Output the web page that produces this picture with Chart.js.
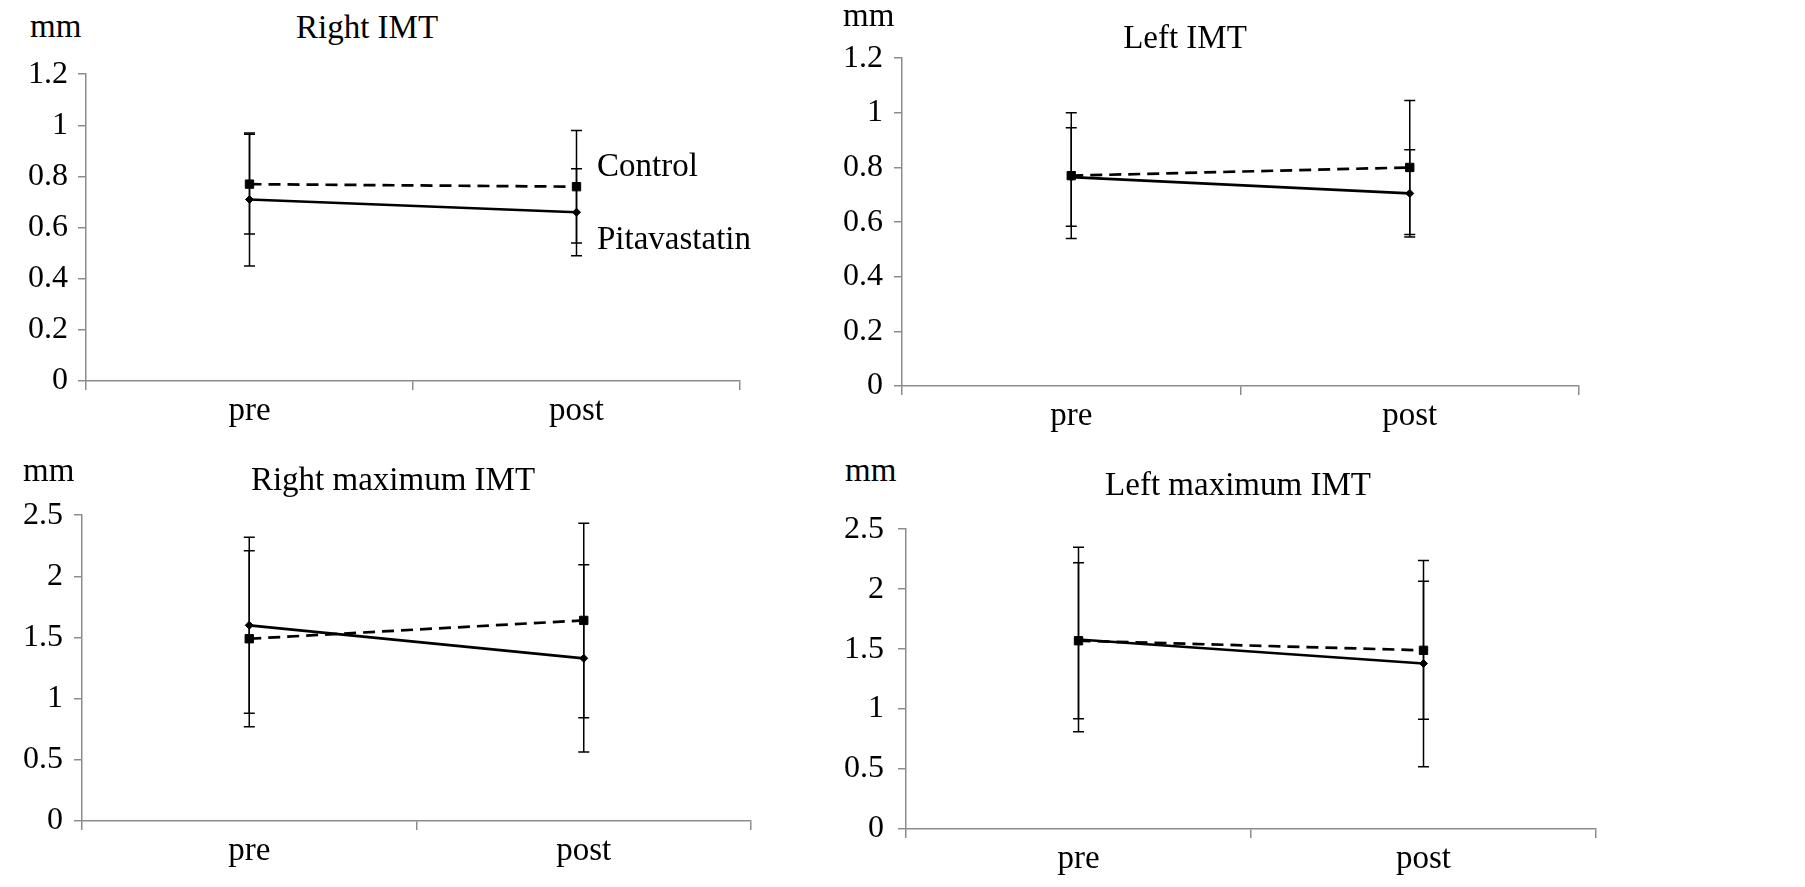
<!DOCTYPE html>
<html>
<head>
<meta charset="utf-8">
<script src="https://cdn.jsdelivr.net/npm/chart.js@4.4.1/dist/chart.umd.min.js"></script>
<style>
  body { margin: 0; background: #fff; }
  #page { position: relative; width: 1805px; height: 887px; overflow: hidden; }
  canvas { position: absolute; }
  .txt {
    position: absolute;
    font-family: "Liberation Serif", "Times New Roman", serif;
    font-size: 33px;
    line-height: 33px;
    color: #000;
    white-space: nowrap;
    z-index: 2;
  }
  .title { text-align: center; width: 400px; }
</style>
</head>
<body>
<div id="page">
  <canvas id="rightImt"></canvas>
  <canvas id="leftImt"></canvas>
  <canvas id="rightMax"></canvas>
  <canvas id="leftMax"></canvas>

  <div class="txt" style="left:30px; top:10px;">mm</div>
  <div class="txt title" style="left:167px; top:11px;">Right IMT</div>
  <div class="txt" style="left:597px; top:149px;">Control</div>
  <div class="txt" style="left:597px; top:222px;">Pitavastatin</div>

  <div class="txt" style="left:843px; top:-1px;">mm</div>
  <div class="txt title" style="left:985px; top:21px;">Left IMT</div>

  <div class="txt" style="left:23px; top:454px;">mm</div>
  <div class="txt title" style="left:193px; top:463px;">Right maximum IMT</div>

  <div class="txt" style="left:845px; top:454px;">mm</div>
  <div class="txt title" style="left:1038px; top:468px;">Left maximum IMT</div>
</div>

<script>
// Categories and tick values
const categories = ['pre', 'post'];
const imtTicks = [0, 0.2, 0.4, 0.6, 0.8, 1, 1.2];
const maxImtTicks = [0, 0.5, 1, 1.5, 2, 2.5];

// Right IMT (mean, SD)
const rightImtPita = [0.71, 0.66];
const rightImtPitaErr = [0.26, 0.17];
const rightImtCtrl = [0.77, 0.76];
const rightImtCtrlErr = [0.195, 0.22];

// Left IMT
const leftImtPita = [0.765, 0.705];
const leftImtPitaErr = [0.18, 0.16];
const leftImtCtrl = [0.77, 0.80];
const leftImtCtrlErr = [0.23, 0.245];

// Right maximum IMT
const rightMaxPita = [1.60, 1.33];
const rightMaxPitaErr = [0.72, 0.765];
const rightMaxCtrl = [1.49, 1.64];
const rightMaxCtrlErr = [0.72, 0.795];

// Left maximum IMT
const leftMaxPita = [1.58, 1.38];
const leftMaxPitaErr = [0.77, 0.86];
const leftMaxCtrl = [1.57, 1.49];
const leftMaxCtrlErr = [0.65, 0.575];

const axisGray = '#8c8c8c';
const serif = 'Liberation Serif';
const yAxisWidth = 78;
const xAxisHeight = 60;
const topPad = 24;
const rightPad = 12;

// Draws the SD whiskers under the lines and markers
const errorBars = {
    id: 'errorBars',
    beforeDatasetsDraw(chart) {
        const ctx = chart.ctx;
        const yScale = chart.scales.y;
        ctx.save();
        ctx.strokeStyle = '#000';
        ctx.lineWidth = 1.5;
        chart.data.datasets.forEach((ds, i) => {
            const meta = chart.getDatasetMeta(i);
            meta.data.forEach((pt, j) => {
                const top = yScale.getPixelForValue(ds.data[j] + ds.errors[j]);
                const bottom = yScale.getPixelForValue(ds.data[j] - ds.errors[j]);
                ctx.beginPath();
                ctx.moveTo(pt.x, top);
                ctx.lineTo(pt.x, bottom);
                ctx.moveTo(pt.x - 5.5, top);
                ctx.lineTo(pt.x + 5.5, top);
                ctx.moveTo(pt.x - 5.5, bottom);
                ctx.lineTo(pt.x + 5.5, bottom);
                ctx.stroke();
            });
        });
        ctx.restore();
    }
};

// plot box: left/right edges of the axes, top (max tick) and bottom (zero)
function makeChart(id, box, tickValues, tickPad, pita, pitaErr, ctrl, ctrlErr) {
    const canvas = document.getElementById(id);
    const w = yAxisWidth + (box.right - box.left) + rightPad;
    const h = topPad + (box.bottom - box.top) + xAxisHeight;
    canvas.width = w;
    canvas.height = h;
    canvas.style.left = (box.left - yAxisWidth) + 'px';
    canvas.style.top = (box.top - topPad) + 'px';

    return new Chart(canvas.getContext('2d'), {
        type: 'line',
        data: {
            labels: categories,
            datasets: [
                {
                    label: 'Pitavastatin',
                    data: pita,
                    errors: pitaErr,
                    borderColor: '#000',
                    backgroundColor: '#000',
                    borderWidth: 2.7,
                    pointStyle: 'rectRot',
                    pointRadius: 4,
                    pointBorderWidth: 1,
                    tension: 0
                },
                {
                    label: 'Control',
                    data: ctrl,
                    errors: ctrlErr,
                    borderColor: '#000',
                    backgroundColor: '#000',
                    borderWidth: 2.7,
                    borderDash: [12, 7],
                    pointStyle: 'rect',
                    pointRadius: 5.9,
                    pointBorderWidth: 1,
                    tension: 0
                }
            ]
        },
        options: {
            responsive: false,
            animation: false,
            devicePixelRatio: 1,
            layout: { padding: { top: topPad, right: rightPad, left: 0, bottom: 0 } },
            plugins: {
                legend: { display: false },
                tooltip: { enabled: false },
                title: { display: false }
            },
            scales: {
                x: {
                    offset: true,
                    ticks: {
                        color: '#000',
                        font: { family: serif, size: 33 },
                        padding: 2,
                        maxRotation: 0
                    },
                    grid: {
                        offset: true,
                        drawOnChartArea: false,
                        tickLength: 9,
                        color: axisGray,
                        lineWidth: 1.5
                    },
                    border: { color: axisGray, width: 1.5 },
                    afterFit: s => { s.height = xAxisHeight; }
                },
                y: {
                    min: tickValues[0],
                    max: tickValues[tickValues.length - 1],
                    afterBuildTicks: s => { s.ticks = tickValues.map(v => ({ value: v })); },
                    ticks: {
                        color: '#000',
                        font: { family: serif, size: 32 },
                        padding: tickPad,
                        callback: v => String(v)
                    },
                    grid: {
                        drawOnChartArea: false,
                        tickLength: 8,
                        color: axisGray,
                        lineWidth: 1.5
                    },
                    border: { color: axisGray, width: 1.5 },
                    afterFit: s => { s.width = yAxisWidth; }
                }
            }
        },
        plugins: [errorBars]
    });
}

makeChart('rightImt', { left: 86, right: 740, top: 69, bottom: 381 }, imtTicks, 10,
    rightImtPita, rightImtPitaErr, rightImtCtrl, rightImtCtrlErr);
makeChart('leftImt', { left: 902, right: 1579, top: 52, bottom: 386 }, imtTicks, 11,
    leftImtPita, leftImtPitaErr, leftImtCtrl, leftImtCtrlErr);
makeChart('rightMax', { left: 82, right: 751, top: 509, bottom: 821 }, maxImtTicks, 11,
    rightMaxPita, rightMaxPitaErr, rightMaxCtrl, rightMaxCtrlErr);
makeChart('leftMax', { left: 906, right: 1596, top: 520, bottom: 829 }, maxImtTicks, 14,
    leftMaxPita, leftMaxPitaErr, leftMaxCtrl, leftMaxCtrlErr);
</script>
</body>
</html>
